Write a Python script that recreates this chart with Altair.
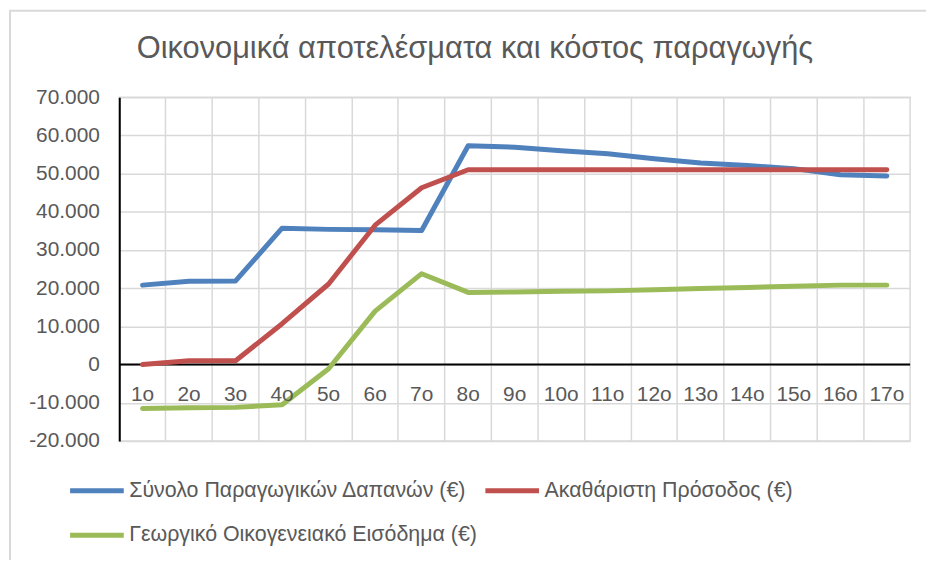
import altair as alt
import pandas as pd

categories = ["1ο", "2ο", "3ο", "4ο", "5ο", "6ο", "7ο", "8ο", "9ο", "10ο",
              "11ο", "12ο", "13ο", "14ο", "15ο", "16ο", "17ο"]
series_names = ["Σύνολο Παραγωγικών Δαπανών (€)",
                "Ακαθάριστη Πρόσοδος (€)",
                "Γεωργικό Οικογενειακό Εισόδημα (€)"]
costs = [20800, 21800, 21900, 35700, 35400, 35300, 35100, 57300, 56900, 56000,
         55200, 53900, 52800, 52100, 51300, 49700, 49400]
gross = [0, 1000, 1000, 10700, 21100, 36500, 46300, 51000, 51000, 51000,
         51000, 51000, 51000, 51000, 51000, 51000, 51000]
income = [-11500, -11300, -11200, -10500, -1100, 14000, 23800, 18900, 19000, 19200,
          19300, 19600, 19900, 20200, 20500, 20800, 20800]
y_ticks = [-20000, -10000, 0, 10000, 20000, 30000, 40000, 50000, 60000, 70000]
colors = ["#4F81BD", "#C0504D", "#9BBB59"]
title_text = "Οικονομικά αποτελέσματα και κόστος παραγωγής"

rows = []
for name, vals in zip(series_names, [costs, gross, income]):
    for i, (c, v) in enumerate(zip(categories, vals)):
        rows.append({"cat": c, "idx": i, "series": name, "value": v})
df = pd.DataFrame(rows)

FONT = "Liberation Sans"
GRAY = "#595959"
GRID = "#D9D9D9"

y_scale = alt.Scale(domain=[-20000, 70000], nice=False, zero=False)
x_scale = alt.Scale(type="band", paddingInner=0, paddingOuter=0)
x_axis = alt.Axis(bandPosition=0, grid=True, labels=False, ticks=False,
                  domain=False, title=None, gridColor=GRID, gridWidth=1.5)
y_axis = alt.Axis(values=y_ticks, title=None, ticks=False, labelOverlap=False,
                  labelExpr="replace(replace(format(datum.value, ','), ',', '.'), '\u2212', '-')",
                  labelFontSize=21, labelColor=GRAY, labelFont=FONT,
                  labelPadding=20, domainColor="black", domainWidth=2,
                  gridColor=GRID, gridWidth=1.5)

x_enc = alt.X("cat:N", sort=categories, scale=x_scale, axis=x_axis)
y_enc = alt.Y("value:Q", scale=y_scale, axis=y_axis)

frame = alt.Chart(alt.Data(values=[{}])).mark_rect(
    fill=None, stroke=GRID, strokeWidth=2
).encode(x=alt.value(-110), x2=alt.value(1000), y=alt.value(-87), y2=alt.value(700))

title = alt.Chart(alt.Data(values=[{"t": title_text}])).mark_text(
    font=FONT, fontSize=31, color=GRAY, baseline="alphabetic", align="center"
).encode(x=alt.value(358), y=alt.value(-39), text="t:N")

zero = alt.Chart(pd.DataFrame({"value": [0]})).mark_rule(
    color="black", strokeWidth=2
).encode(y=y_enc)

labels = alt.Chart(pd.DataFrame({"cat": categories, "value": [0] * len(categories)})).mark_text(
    font=FONT, fontSize=21, color=GRAY, baseline="middle", dy=31
).encode(x=x_enc, y=y_enc, text="cat:N")

lines = alt.Chart(df).mark_line(strokeWidth=5, strokeCap="round", strokeJoin="round").encode(
    x=x_enc, y=y_enc,
    color=alt.Color("series:N",
                    scale=alt.Scale(domain=series_names, range=colors),
                    legend=alt.Legend(title=None, orient="none", legendX=-52, legendY=385,
                                      direction="horizontal",
                                      columns=2, symbolType="stroke", symbolSize=2916,
                                      symbolStrokeWidth=5, labelFontSize=21.5,
                                      labelFont=FONT, labelColor=GRAY, clipHeight=22,
                                      rowPadding=23, columnPadding=6, labelOffset=3,
                                      padding=0, labelLimit=500)),
    order=alt.Order("idx:Q")
)

chart = alt.layer(frame, title, zero, lines, labels).properties(
    width=796, height=346,
    autosize=alt.AutoSizeParams(type="none"),
    padding={"left": 112, "top": 88, "right": 16, "bottom": 118},
).configure_view(stroke=GRID, strokeWidth=1.5)

chart.save("out.html", embed_options={"renderer": "svg", "actions": False})
